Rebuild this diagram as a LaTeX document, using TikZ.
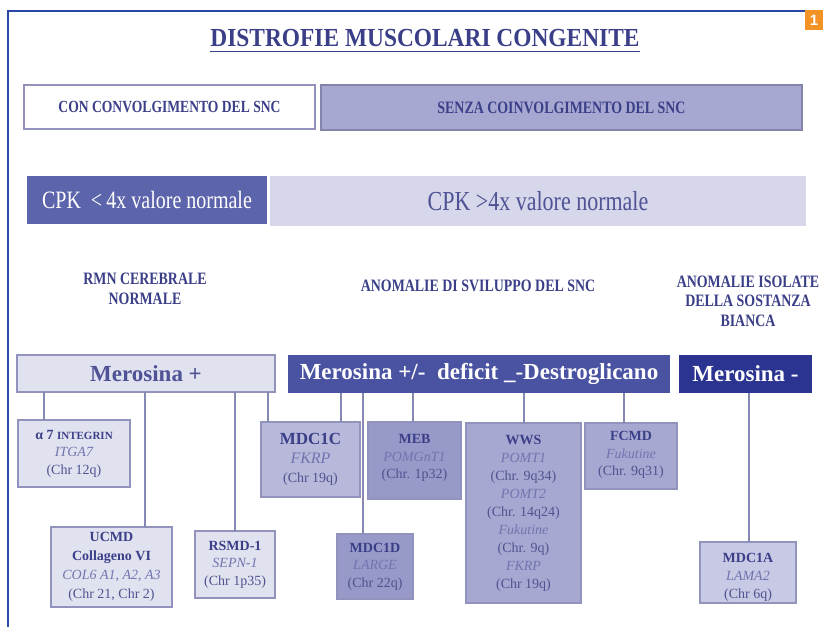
\documentclass[tikz,border=0pt]{standalone}
\usepackage{fontspec}
\setmainfont{Liberation Serif}
\newfontfamily\cond[FakeStretch=0.80]{Liberation Serif}
\newfontfamily\condt[FakeStretch=0.90]{Liberation Serif}
\newfontfamily\numfont{Liberation Sans}
\usetikzlibrary{positioning,calc}
\definecolor{navy}{HTML}{3B3F88}
\definecolor{ital}{HTML}{7174AE}
\definecolor{chrc}{HTML}{4F538F}
\definecolor{pale}{HTML}{E1E2F0}
\definecolor{midlav}{HTML}{A6A8D1}
\definecolor{lav2}{HTML}{B7B8DA}
\definecolor{lav3}{HTML}{9799C8}
\definecolor{lav4}{HTML}{C8C9E4}
\definecolor{cpkdark}{HTML}{5C64AB}
\definecolor{cpklight}{HTML}{D6D7EB}
\definecolor{mpm}{HTML}{4A52A2}
\definecolor{mneg}{HTML}{2B3491}
\definecolor{bord}{HTML}{9293BC}
\definecolor{linec}{HTML}{8688B4}
\definecolor{frameblue}{HTML}{2B48A6}
\definecolor{orange1}{HTML}{F39325}
\tikzset{
  every node/.style={inner sep=0pt, outer sep=0pt},
  gbox/.style={draw=bord, line width=1.2pt, anchor=north west, align=center, text=navy},
  conn/.style={draw=linec, line width=1.4pt},
  lbl/.style={align=center, text=navy, font=\cond\bfseries\fontsize{17.4}{19.5}\selectfont},
}
\newcommand{\gene}[1]{{\color{ital}\itshape #1}}
\newcommand{\chrl}[1]{{\color{chrc}#1}}
\begin{document}
\begin{tikzpicture}[x=1pt,y=-1pt]
\useasboundingbox (0,0) rectangle (823,627);
\fill[white] (0,0) rectangle (823,627);
% frame
\draw[frameblue, line width=1.4pt] (8,627) -- (8,11) -- (805,11);
\node[fill=orange1, minimum width=18pt, minimum height=20pt, anchor=north west, text=white, font=\numfont\bfseries\fontsize{15}{15}\selectfont] (one) at (805,10) {1};
% title
\node[text=navy, font=\condt\bfseries\fontsize{26}{28}\selectfont] (title) at (425,38) {DISTROFIE MUSCOLARI CONGENITE};
\draw[navy, line width=1.8pt] ($(title.base west)+(0,5)$) -- ($(title.base east)+(0,5)$);
% header boxes
\node[gbox, fill=white, draw=bord, minimum width=291pt, minimum height=44pt, font=\cond\bfseries\fontsize{17}{19}\selectfont] (con) at (24,85) {CON CONVOLGIMENTO DEL SNC};
\node[gbox, fill=midlav, draw=bord!90!black, minimum width=481pt, minimum height=45pt, font=\cond\bfseries\fontsize{17.4}{19}\selectfont] (senza) at (321,85) {SENZA COINVOLGIMENTO DEL SNC};
% CPK
\node[anchor=north west, fill=cpkdark, minimum width=240pt, minimum height=48pt, text=white, font=\cond\fontsize{25}{28}\selectfont] (cpk1) at (27,176) {CPK \ <\,4x valore normale};
\node[anchor=north west, fill=cpklight, minimum width=536pt, minimum height=50pt, text=navy!90!white, font=\cond\fontsize{27.5}{30}\selectfont] (cpk2) at (270,176) {CPK >4x valore normale};
% labels
\node[lbl] (rmn) at (145,289) {RMN CEREBRALE\\NORMALE};
\node[lbl] (anom) at (478,286) {ANOMALIE DI SVILUPPO DEL SNC};
\node[lbl] (isol) at (748,301) {ANOMALIE ISOLATE\\DELLA SOSTANZA\\BIANCA};
% merosina row
\node[gbox, fill=pale, minimum width=258pt, minimum height=37pt, font=\bfseries\fontsize{23}{26}\selectfont, text=navy!90!white] (mp) at (17,355) {Merosina +};
\node[anchor=north west, fill=mpm, minimum width=382pt, minimum height=38pt, text=white, font=\bfseries\fontsize{23}{26}\selectfont] (mpm) at (288,355) {Merosina +/-\ \ deficit \_-Destroglicano};
\node[anchor=north west, fill=mneg, minimum width=133pt, minimum height=38pt, text=white, font=\bfseries\fontsize{23}{26}\selectfont] (mneg) at (679,355) {Merosina -};
% leaf boxes
\node[gbox, fill=pale, minimum width=112pt, minimum height=67pt, font=\fontsize{14}{17.5}\selectfont] (a7) at (18,420) {\textbf{α 7 {\fontsize{11}{12}\selectfont INTEGRIN}}\\\gene{ITGA7}\\\chrl{(Chr 12q)}};
\node[gbox, fill=pale, minimum width=121pt, minimum height=80pt, font=\fontsize{14}{19}\selectfont] (ucmd) at (51,527) {\textbf{UCMD}\\\textbf{Collageno VI}\\\gene{COL6 A1, A2, A3}\\\chrl{(Chr 21, Chr 2)}};
\node[gbox, fill=pale, minimum width=80pt, minimum height=67pt, font=\fontsize{14}{17.5}\selectfont] (rsmd) at (195,531) {\textbf{RSMD-1}\\\gene{SEPN-1}\\\chrl{(Chr 1p35)}};
\node[gbox, fill=lav2, minimum width=99pt, minimum height=75pt, font=\fontsize{14}{19}\selectfont] (c1c) at (261,422) {{\fontsize{17}{19}\selectfont\textbf{MDC1C}}\\\gene{\fontsize{16}{19}\selectfont FKRP}\\\chrl{(Chr 19q)}};
\node[gbox, fill=lav3, minimum width=93pt, minimum height=77pt, font=\fontsize{14}{17.5}\selectfont] (meb) at (368,422) {\textbf{MEB}\\\gene{POMGnT1}\\\chrl{(Chr. 1p32)}\rule[-8pt]{0pt}{8pt}};
\node[gbox, fill=lav3, minimum width=76pt, minimum height=65pt, font=\fontsize{14}{17.5}\selectfont] (c1d) at (337,534) {\textbf{MDC1D}\\\gene{LARGE}\\\chrl{(Chr 22q)}};
\node[gbox, fill=midlav, minimum width=115pt, minimum height=180pt, font=\fontsize{14}{18}\selectfont] (wws) at (466,423) {\textbf{WWS}\\\gene{POMT1}\\\chrl{(Chr. 9q34)}\\\gene{POMT2}\\\chrl{(Chr. 14q24)}\\\gene{Fukutine}\\\chrl{(Chr. 9q)}\\\gene{FKRP}\\\chrl{(Chr 19q)}};
\node[gbox, fill=midlav, minimum width=92pt, minimum height=66pt, font=\fontsize{14}{17.5}\selectfont] (fcmd) at (585,423) {\textbf{FCMD}\\\gene{Fukutine}\\\chrl{(Chr. 9q31)}\rule[-5pt]{0pt}{5pt}};
\node[gbox, fill=lav4, minimum width=96pt, minimum height=61pt, font=\fontsize{14}{18}\selectfont] (c1a) at (700,542) {\rule{0pt}{18pt}\textbf{MDC1A}\\\gene{LAMA2}\\\chrl{(Chr 6q)}};
% connector x positions
\coordinate (k44) at (44,0);
\coordinate (k145) at (145,0);
\coordinate (k235) at (235,0);
\coordinate (k268) at (268,0);
\coordinate (k341) at (341,0);
\coordinate (k363) at (363,0);
\coordinate (k413) at (413,0);
\coordinate (k524) at (524,0);
\coordinate (k624) at (624,0);
\coordinate (k749) at (749,0);
\draw[conn] (mp.south -| k44) -- (a7.north -| k44);
\draw[conn] (mp.south -| k145) -- (ucmd.north -| k145);
\draw[conn] (mp.south -| k235) -- (rsmd.north -| k235);
\draw[conn] (mp.south -| k268) -- (c1c.north -| k268);
\draw[conn] (mpm.south -| k341) -- (c1c.north -| k341);
\draw[conn] (mpm.south -| k363) -- (c1d.north -| k363);
\draw[conn] (mpm.south -| k413) -- (meb.north -| k413);
\draw[conn] (mpm.south -| k524) -- (wws.north -| k524);
\draw[conn] (mpm.south -| k624) -- (fcmd.north -| k624);
\draw[conn] (mneg.south -| k749) -- (c1a.north -| k749);
\end{tikzpicture}
\end{document}
